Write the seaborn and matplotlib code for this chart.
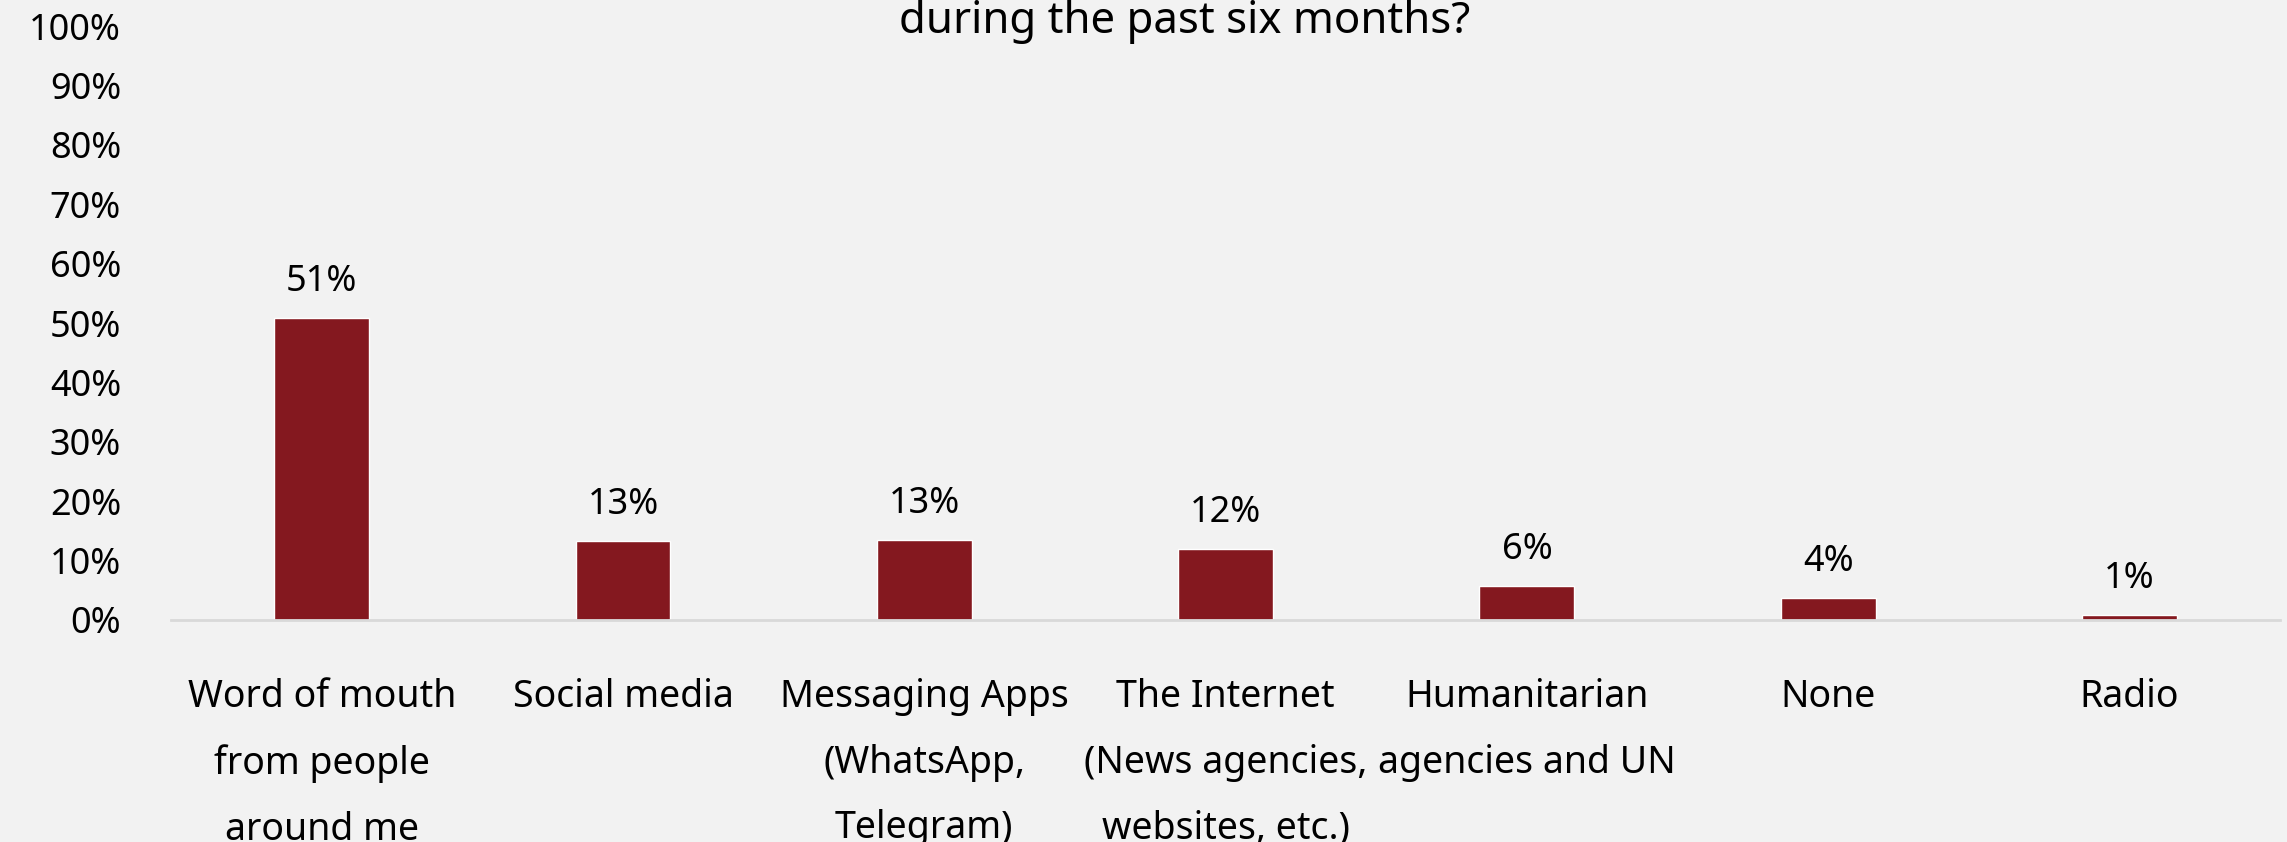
"""Bar chart: information sources during the past six months."""
import matplotlib
matplotlib.use("Agg")
import matplotlib.pyplot as plt
import pandas as pd
import seaborn as sns

# Data
CATEGORIES = [
    "Word of mouth\nfrom people\naround me",
    "Social media",
    "Messaging Apps\n(WhatsApp,\nTelegram)",
    "The Internet\n(News agencies,\nwebsites, etc.)",
    "Humanitarian\nagencies and UN",
    "None",
    "Radio",
]
SHARES = [50.9, 13.3, 13.4, 11.9, 5.7, 3.7, 0.8]
Y_TICKS = [0, 10, 20, 30, 40, 50, 60, 70, 80, 90, 100]
TITLE = "during the past six months?"

BG = "#F2F2F2"
BAR_COLOR = "#84181F"
FONT = "Noto Sans"

sns.set_theme(style="white", rc={
    "figure.facecolor": BG,
    "axes.facecolor": BG,
    "savefig.facecolor": BG,
})
plt.rcParams["font.family"] = [FONT, "DejaVu Sans"]

df = pd.DataFrame({"source": CATEGORIES, "share": SHARES})

fig = plt.figure(figsize=(22.87, 8.42), dpi=100)
ax = fig.add_axes([0.0748, 0.2637, 0.9222, 0.7053])

sns.barplot(data=df, x="source", y="share", color=BAR_COLOR,
            saturation=1, width=0.315, ax=ax)

ax.set_xlim(-0.5, 6.5)
ax.set_ylim(0, 100)
ax.set_yticks(Y_TICKS)
ax.set_yticklabels([f"{t}%" for t in Y_TICKS])
ax.set_xlabel("")
ax.set_ylabel("")

# label di atas bar
for i, v in enumerate(SHARES):
    ax.annotate(f"{round(v)}%", (i, v), xytext=(0, 13),
                textcoords="offset points", ha="center", va="bottom",
                fontsize=26, color="black")

for side in ["top", "right", "left"]:
    ax.spines[side].set_visible(False)
ax.spines["bottom"].set_color("#D9D9D9")
ax.spines["bottom"].set_linewidth(2)

ax.tick_params(axis="y", length=0, pad=36, labelsize=26, labelcolor="black")
ax.tick_params(axis="x", length=0, pad=42, labelsize=27, labelcolor="black")
for lbl in ax.get_xticklabels():
    lbl.set_linespacing(1.95)
    lbl.set_verticalalignment("top")

fig.text(0.518, 0.974, TITLE, ha="center", va="center", fontsize=31.5,
         color="black")

fig.savefig("out.png", dpi=100)
